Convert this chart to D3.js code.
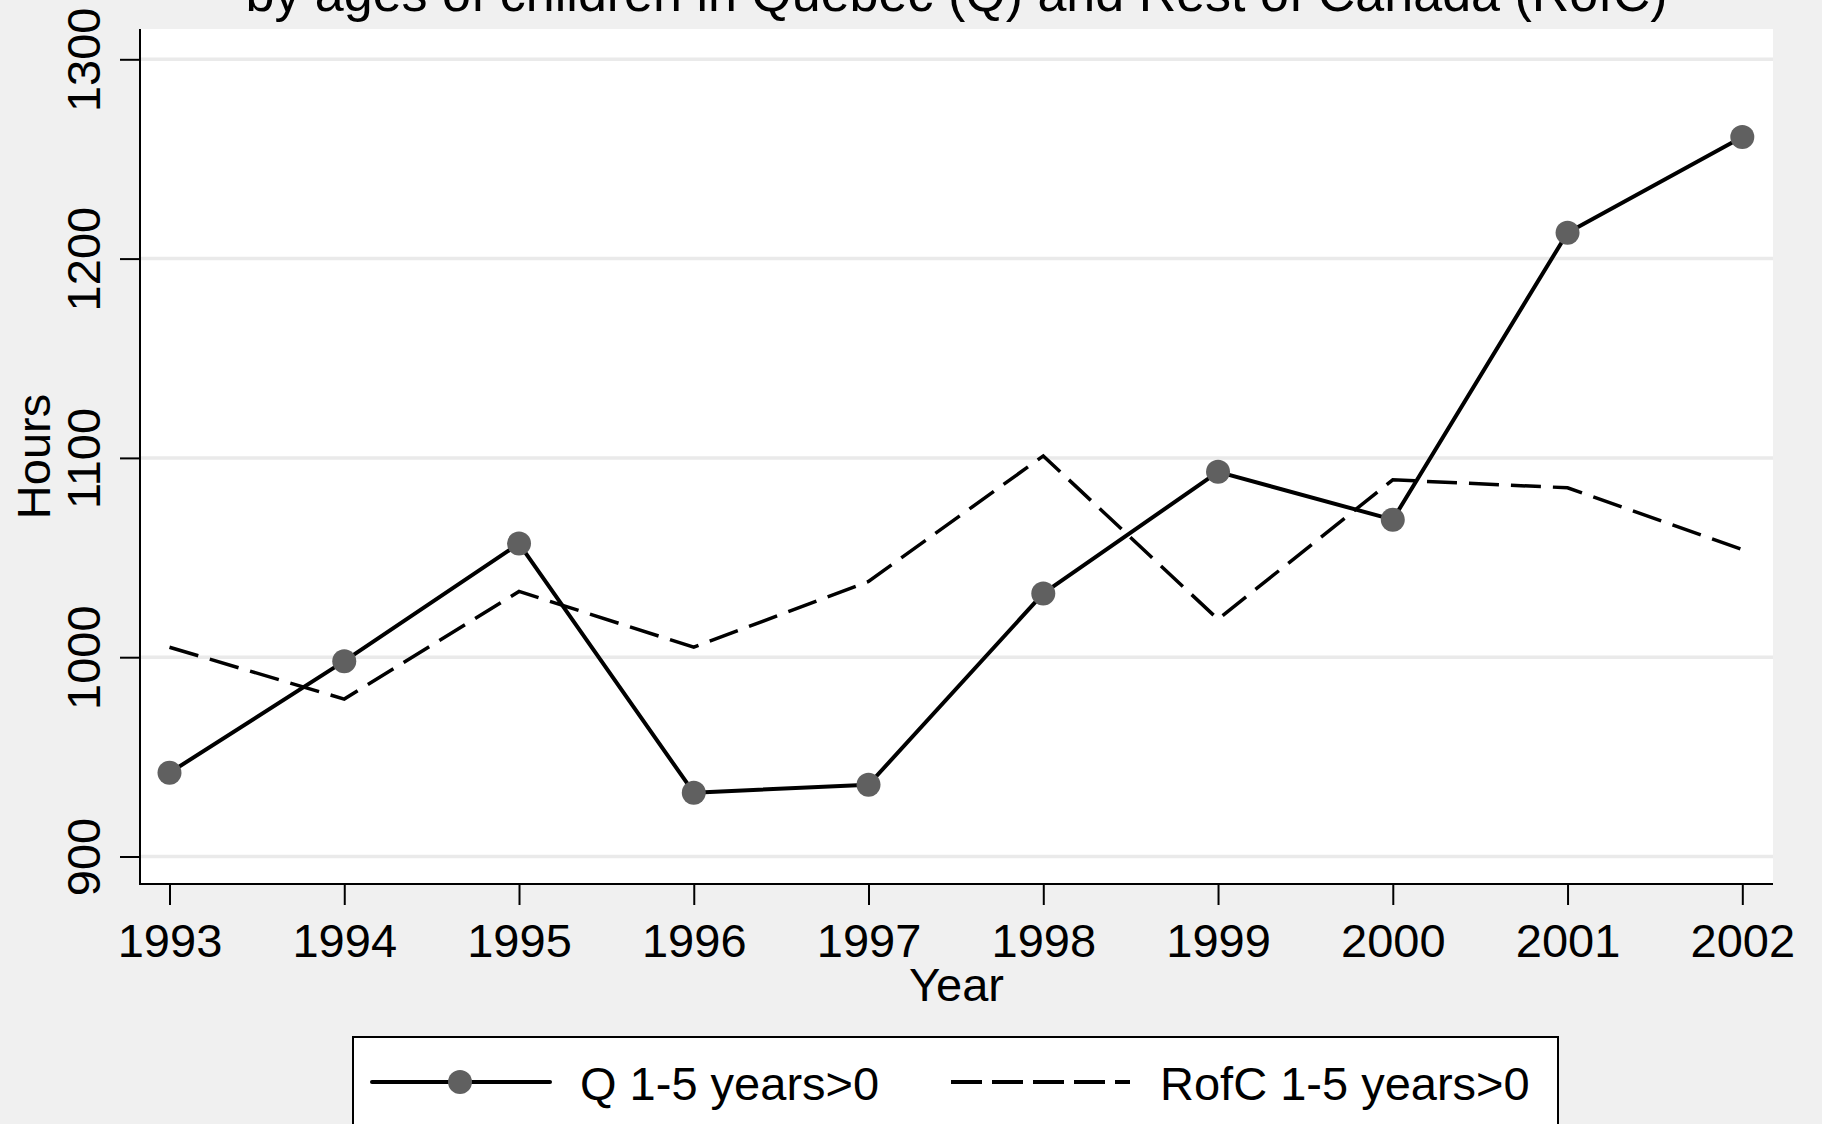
<!DOCTYPE html>
<html>
<head>
<meta charset="utf-8">
<script src="https://cdn.jsdelivr.net/npm/d3@7"></script>
<style>
  html, body { margin: 0; padding: 0; background: #f0f0f0; }
  svg { display: block; }
  text { font-family: "Liberation Sans", Arial, Helvetica, sans-serif; fill: #000; }
</style>
</head>
<body>
<svg id="chart" width="1822" height="1124"></svg>
<script>
const years = [1993, 1994, 1995, 1996, 1997, 1998, 1999, 2000, 2001, 2002];
const qValues = [942, 998, 1057, 932, 936, 1032, 1093, 1069, 1213, 1261];
const rofcValues = [1005, 979, 1033, 1005, 1038, 1101, 1019, 1089, 1085, 1054];
const yTicks = [900, 1000, 1100, 1200, 1300];
const seriesNames = ["Q 1-5 years>0", "RofC 1-5 years>0"];
const titleText = "by ages of children in Quebec (Q) and Rest of Canada (RofC)";
const xTitle = "Year";
const yTitle = "Hours";

const svg = d3.select("#chart");
const W = 1822, H = 1124;
const plot = { left: 140, right: 1773, top: 29, bottom: 884 };

svg.append("rect").attr("width", W).attr("height", H).attr("fill", "#f0f0f0");

const x = d3.scaleLinear().domain([1993, 2002]).range([169.5, 1742.3]);
const y = d3.scaleLinear().domain([900, 1300]).range([856.5, 59.3]);

// plot area
svg.append("rect")
  .attr("x", plot.left).attr("y", plot.top)
  .attr("width", plot.right - plot.left).attr("height", plot.bottom - plot.top)
  .attr("fill", "#fff");

// gridlines
svg.append("g").selectAll("line").data(yTicks).join("line")
  .attr("x1", plot.left).attr("x2", plot.right)
  .attr("y1", d => y(d)).attr("y2", d => y(d))
  .attr("stroke", "#eaeaea").attr("stroke-width", 3.5);

// title (second line)
svg.append("text")
  .attr("x", (plot.left + plot.right) / 2).attr("y", 11)
  .attr("text-anchor", "middle").attr("font-size", 52)
  .text(titleText);

// y axis
const yAxis = d3.axisLeft(y).tickValues(yTicks).tickSize(20).tickPadding(0).tickFormat(d3.format("d"));
const gy = svg.append("g").attr("transform", `translate(${plot.left},0)`).call(yAxis);
gy.select(".domain").remove();
gy.selectAll(".tick line").attr("stroke", "#000").attr("stroke-width", 2);
gy.selectAll(".tick text")
  .attr("font-size", 47).attr("font-family", "Liberation Sans, Arial, sans-serif")
  .attr("text-anchor", "middle").attr("fill", "#000")
  .attr("x", null).attr("dy", null)
  .attr("transform", "translate(-40,0) rotate(-90)")
  .attr("y", 0);
svg.append("line")
  .attr("x1", plot.left).attr("x2", plot.left)
  .attr("y1", plot.top).attr("y2", plot.bottom + 1)
  .attr("stroke", "#000").attr("stroke-width", 2);

// x axis
const xAxis = d3.axisBottom(x).tickValues(years).tickSize(20).tickPadding(0).tickFormat(d3.format("d"));
const gx = svg.append("g").attr("transform", `translate(0,${plot.bottom + 1})`).call(xAxis);
gx.select(".domain").remove();
gx.selectAll(".tick line").attr("stroke", "#000").attr("stroke-width", 2);
gx.selectAll(".tick text")
  .attr("font-size", 47).attr("font-family", "Liberation Sans, Arial, sans-serif")
  .attr("fill", "#000").attr("dy", null).attr("y", 72);
svg.append("line")
  .attr("x1", plot.left - 1).attr("x2", plot.right)
  .attr("y1", plot.bottom).attr("y2", plot.bottom)
  .attr("stroke", "#000").attr("stroke-width", 2);

// axis titles
svg.append("text")
  .attr("x", (plot.left + plot.right) / 2).attr("y", 1001)
  .attr("text-anchor", "middle").attr("font-size", 47)
  .text(xTitle);
svg.append("text")
  .attr("transform", `translate(50,${(plot.top + plot.bottom) / 2}) rotate(-90)`)
  .attr("text-anchor", "middle").attr("font-size", 47)
  .text(yTitle);

// lines
const line = d3.line().x(d => x(d[0])).y(d => y(d[1]));
const rofcData = years.map((yr, i) => [yr, rofcValues[i]]);
const qData = years.map((yr, i) => [yr, qValues[i]]);

svg.append("path").datum(rofcData).attr("d", line)
  .attr("fill", "none").attr("stroke", "#000").attr("stroke-width", 3.5)
  .attr("stroke-dasharray", "30,12");

svg.append("path").datum(qData).attr("d", line)
  .attr("fill", "none").attr("stroke", "#000").attr("stroke-width", 4)
  .attr("stroke-linejoin", "round");

svg.append("g").selectAll("circle").data(qData).join("circle")
  .attr("cx", d => x(d[0])).attr("cy", d => y(d[1])).attr("r", 12)
  .attr("fill", "#606060");

// legend
const lg = svg.append("g");
lg.append("rect")
  .attr("x", 353).attr("y", 1037).attr("width", 1205).attr("height", 120)
  .attr("fill", "#fff").attr("stroke", "#000").attr("stroke-width", 2);
lg.append("line").attr("x1", 372).attr("x2", 550).attr("y1", 1082).attr("y2", 1082)
  .attr("stroke", "#000").attr("stroke-width", 4).attr("stroke-linecap", "round");
lg.append("circle").attr("cx", 460).attr("cy", 1082).attr("r", 12).attr("fill", "#606060");
lg.append("text").attr("x", 580).attr("y", 1100).attr("font-size", 47).text(seriesNames[0]);
lg.append("line").attr("x1", 951).attr("x2", 1130).attr("y1", 1082).attr("y2", 1082)
  .attr("stroke", "#000").attr("stroke-width", 4).attr("stroke-dasharray", "31,10");
lg.append("text").attr("x", 1160).attr("y", 1100).attr("font-size", 47).text(seriesNames[1]);
</script>
</body>
</html>
